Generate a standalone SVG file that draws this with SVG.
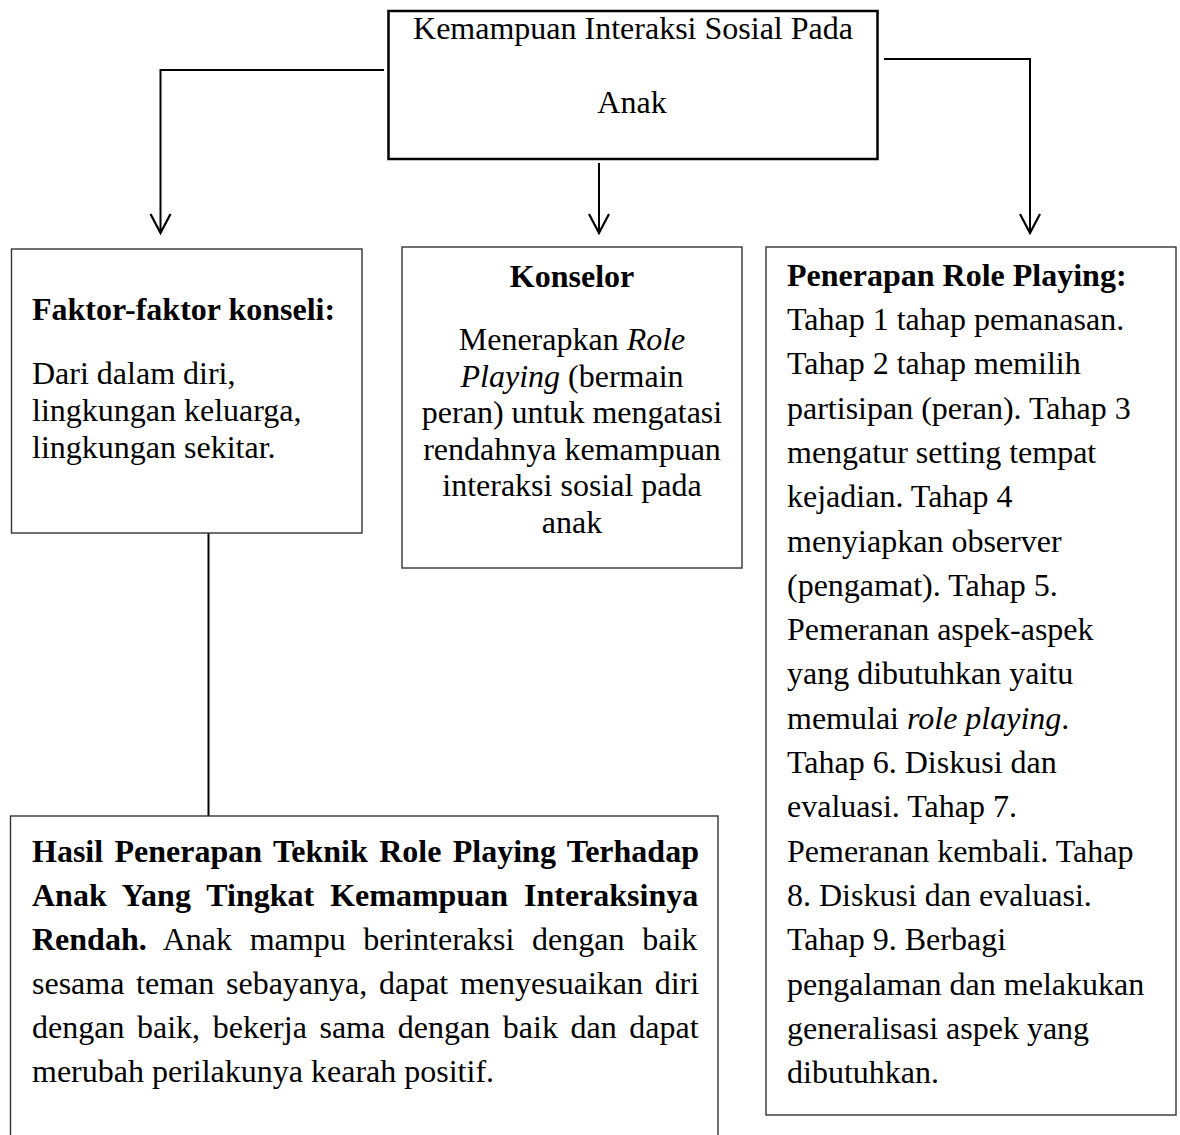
<svg xmlns="http://www.w3.org/2000/svg" width="1180" height="1135" viewBox="0 0 1180 1135">
  <style>
    .t { font-family: "Liberation Serif", "Times New Roman", serif; font-size: 32px; fill: #000; }
    .b { font-weight: bold; }
    .i { font-style: italic; }
    .box { fill: #fff; stroke: #333; stroke-width: 1.4; }
    .conn { fill: none; stroke: #000; stroke-width: 2; }
  </style>
  <defs>
    <marker id="arrow" markerUnits="userSpaceOnUse" viewBox="-22 -12 24 24" markerWidth="24" markerHeight="24" refX="0" refY="0" orient="auto">
      <path d="M-19,-10 L0,0 L-19,10" fill="none" stroke="#000" stroke-width="2.2"/>
    </marker>
  </defs>
  <rect width="1180" height="1135" fill="#fff"/>

  <g id="connectors">
    <path class="conn" d="M384,70 H160.5 V233" marker-end="url(#arrow)"/>
    <path class="conn" d="M599,163 V233" marker-end="url(#arrow)"/>
    <path class="conn" d="M884,59 H1030 V233" marker-end="url(#arrow)"/>
    <path class="conn" d="M208.5,533 V816" stroke-width="1.6" stroke="#222"/>
  </g>

  <g id="node-top">
    <rect x="388.5" y="11" width="489" height="148" fill="#fff" stroke="#000" stroke-width="2.5"/>
    <text class="t" x="633" y="39" text-anchor="middle">Kemampuan Interaksi Sosial Pada</text>
    <text class="t" x="632" y="113" text-anchor="middle">Anak</text>
  </g>

  <g id="node-faktor">
    <rect class="box" x="11.5" y="249" width="350.5" height="284"/>
    <text class="t b" x="32" y="320">Faktor-faktor konseli:</text>
    <text class="t" x="32" y="384">Dari dalam diri,</text>
    <text class="t" x="32" y="421">lingkungan keluarga,</text>
    <text class="t" x="32" y="458">lingkungan sekitar.</text>
  </g>

  <g id="node-konselor">
    <rect class="box" x="402" y="247" width="340" height="321"/>
    <text class="t b" x="572" y="287" text-anchor="middle">Konselor</text>
    <text class="t" x="572" y="350" text-anchor="middle">Menerapkan <tspan class="i">Role</tspan></text>
    <text class="t" x="572" y="386.6" text-anchor="middle"><tspan class="i">Playing</tspan> (bermain</text>
    <text class="t" x="572" y="423.2" text-anchor="middle">peran) untuk mengatasi</text>
    <text class="t" x="572" y="459.8" text-anchor="middle">rendahnya kemampuan</text>
    <text class="t" x="572" y="496.4" text-anchor="middle">interaksi sosial pada</text>
    <text class="t" x="572" y="533" text-anchor="middle">anak</text>
  </g>

  <g id="node-penerapan">
    <rect class="box" x="766" y="247" width="410" height="868"/>
    <text class="t b" x="787" y="286">Penerapan Role Playing:</text>
    <text class="t" x="787" y="330">Tahap 1 tahap pemanasan.</text>
    <text class="t" x="787" y="374.3">Tahap 2 tahap memilih</text>
    <text class="t" x="787" y="418.6">partisipan (peran). Tahap 3</text>
    <text class="t" x="787" y="462.9">mengatur setting tempat</text>
    <text class="t" x="787" y="507.2">kejadian. Tahap 4</text>
    <text class="t" x="787" y="551.5">menyiapkan observer</text>
    <text class="t" x="787" y="595.8">(pengamat). Tahap 5.</text>
    <text class="t" x="787" y="640.1">Pemeranan aspek-aspek</text>
    <text class="t" x="787" y="684.4">yang dibutuhkan yaitu</text>
    <text class="t" x="787" y="728.7">memulai <tspan class="i">role playing</tspan>.</text>
    <text class="t" x="787" y="773">Tahap 6. Diskusi dan</text>
    <text class="t" x="787" y="817.3">evaluasi. Tahap 7.</text>
    <text class="t" x="787" y="861.6">Pemeranan kembali. Tahap</text>
    <text class="t" x="787" y="905.9">8. Diskusi dan evaluasi.</text>
    <text class="t" x="787" y="950.2">Tahap 9. Berbagi</text>
    <text class="t" x="787" y="994.5">pengalaman dan melakukan</text>
    <text class="t" x="787" y="1038.8">generalisasi aspek yang</text>
    <text class="t" x="787" y="1083.1">dibutuhkan.</text>
  </g>

  <g id="node-hasil">
    <rect class="box" x="10.5" y="816" width="707.5" height="340"/>
    <text class="t b" x="32" y="862" word-spacing="3.4">Hasil Penerapan Teknik Role Playing Terhadap</text>
    <text class="t b" x="32" y="906" word-spacing="8">Anak Yang Tingkat Kemampuan Interaksinya</text>
    <text class="t" x="32" y="950" word-spacing="9.7"><tspan class="b">Rendah.</tspan> Anak mampu berinteraksi dengan baik</text>
    <text class="t" x="32" y="994" word-spacing="3.7">sesama teman sebayanya, dapat menyesuaikan diri</text>
    <text class="t" x="32" y="1038" word-spacing="4.6">dengan baik, bekerja sama dengan baik dan dapat</text>
    <text class="t" x="32" y="1082">merubah perilakunya kearah positif.</text>
  </g>
</svg>
